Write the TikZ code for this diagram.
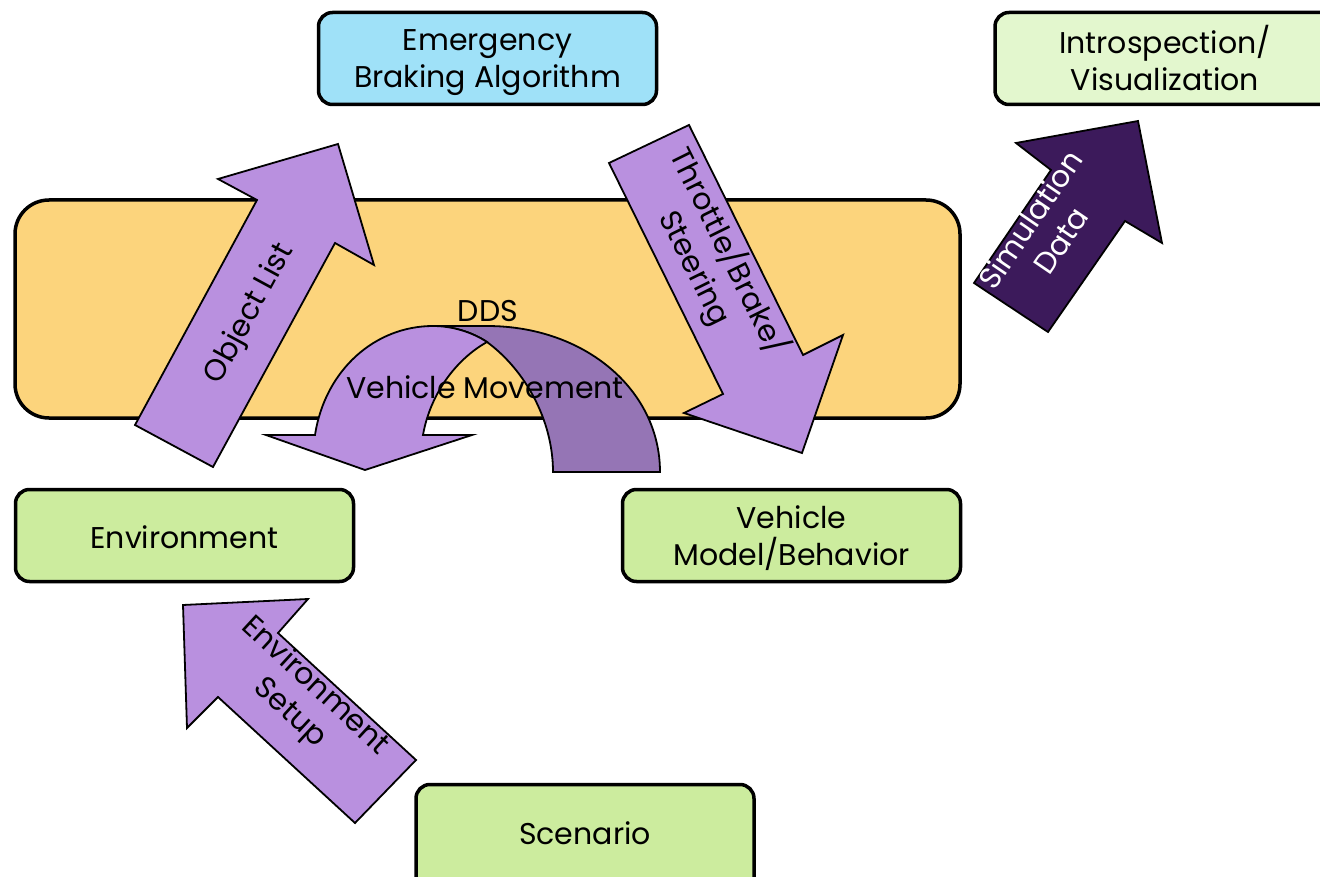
\documentclass[tikz,border=0pt]{standalone}
\usepackage{fontspec}
\setmainfont{Poppins}
\definecolor{cblue}{HTML}{9FE1F8}
\definecolor{cgreen}{HTML}{CCEC9E}
\definecolor{clgreen}{HTML}{E3F7CE}
\definecolor{cyellow}{HTML}{FCD47C}
\definecolor{clpurple}{HTML}{B990DF}
\definecolor{cmpurple}{HTML}{9575B5}
\definecolor{cdpurple}{HTML}{3C1A5B}
\tikzset{
  box/.style={draw=black,line width=3.5pt,rounded corners=14pt,minimum width=338pt,minimum height=92pt,inner sep=0pt},
  arr/.style={draw=black,line width=1.8pt,line join=miter},
  lbl/.style={font=\fontsize{30}{37}\selectfont,align=center,inner sep=0pt},
}
\begin{document}
\begin{tikzpicture}[x=1pt,y=-1pt]
\useasboundingbox (0,0) rectangle (1320,877);
% boxes
\draw[draw=black,line width=3.5pt,fill=cyellow,rounded corners=34pt] (15,200) rectangle (960,418);
\node[box,fill=cblue] (eba) at (487.5,58.5) {};
\node[lbl] (ebat) at (487.5,63) {Emergency\\Braking Algorithm};
\node[box,fill=clgreen,minimum width=350pt] (intro) at (1170,58.5) {};
\node[lbl] (introt) at (1165,58) {Introspection/\\Visualization};
\node[box,fill=cgreen] (env) at (184.5,535.5) {};
\node[lbl] (envt) at (184.5,537) {Environment};
\node[box,fill=cgreen] (veh) at (791.5,535.5) {};
\node[lbl] (veht) at (791.5,538.5) {Vehicle\\Model/Behavior};
\node[box,fill=cgreen,minimum height=115pt] (scen) at (585,842) {};
\node[lbl] (scent) at (585,833) {Scenario};
% Object List arrow
\draw[arr,fill=clpurple] (135,425) -- (257,200) -- (218,179) -- (338,144) -- (374,265) -- (335,243) -- (213,467) -- cycle;
\node[lbl,rotate=61.5] (objl) at (250,314) {Object List};
% Throttle arrow
\draw[arr,fill=clpurple] (609,163) -- (689,125) -- (803,355) -- (843,335) -- (802,453) -- (684,413) -- (723,394) -- cycle;
\node[lbl,rotate=-63.7] (thr) at (712,260) {Throttle/Brake/\\Steering};
% Simulation data arrow
\draw[arr,fill=cdpurple] (974,283) -- (1051,170) -- (1016,143) -- (1138,121) -- (1162,243) -- (1125,221) -- (1048,332) -- cycle;
\node[lbl,text=white,rotate=55.7] (sim) at (1045,230) {Simulation\\Data};
% Environment setup arrow
\draw[arr,fill=clpurple] (183,605) -- (308,599) -- (278,633) -- (416,760) -- (355,823) -- (218,697) -- (187,728) -- cycle;
\node[lbl,rotate=-42.6] (envs) at (302,700) {Environment\\Setup};
% U-turn arrow: dark back part
\draw[arr,fill=cmpurple] (433,326) -- (487,326)
  .. controls (585,326) and (660,390) .. (660,472)
  -- (553,472)
  .. controls (553,420) and (525,370) .. (487,342)
  .. controls (472,332) and (452,326) .. (433,326) -- cycle;
% light front part
\draw[arr,fill=clpurple] (315,435) -- (266,435) -- (365,470) -- (472,435) -- (423,435)
  .. controls (430,395) and (455,360) .. (487,342)
  .. controls (472,332) and (452,326) .. (433,326)
  .. controls (375,326) and (325,370) .. (315,435) -- cycle;
\node[lbl] (dds) at (488,311) {DDS};
\node[lbl] (vm) at (485,387) {Vehicle Movement};
\end{tikzpicture}
\end{document}
